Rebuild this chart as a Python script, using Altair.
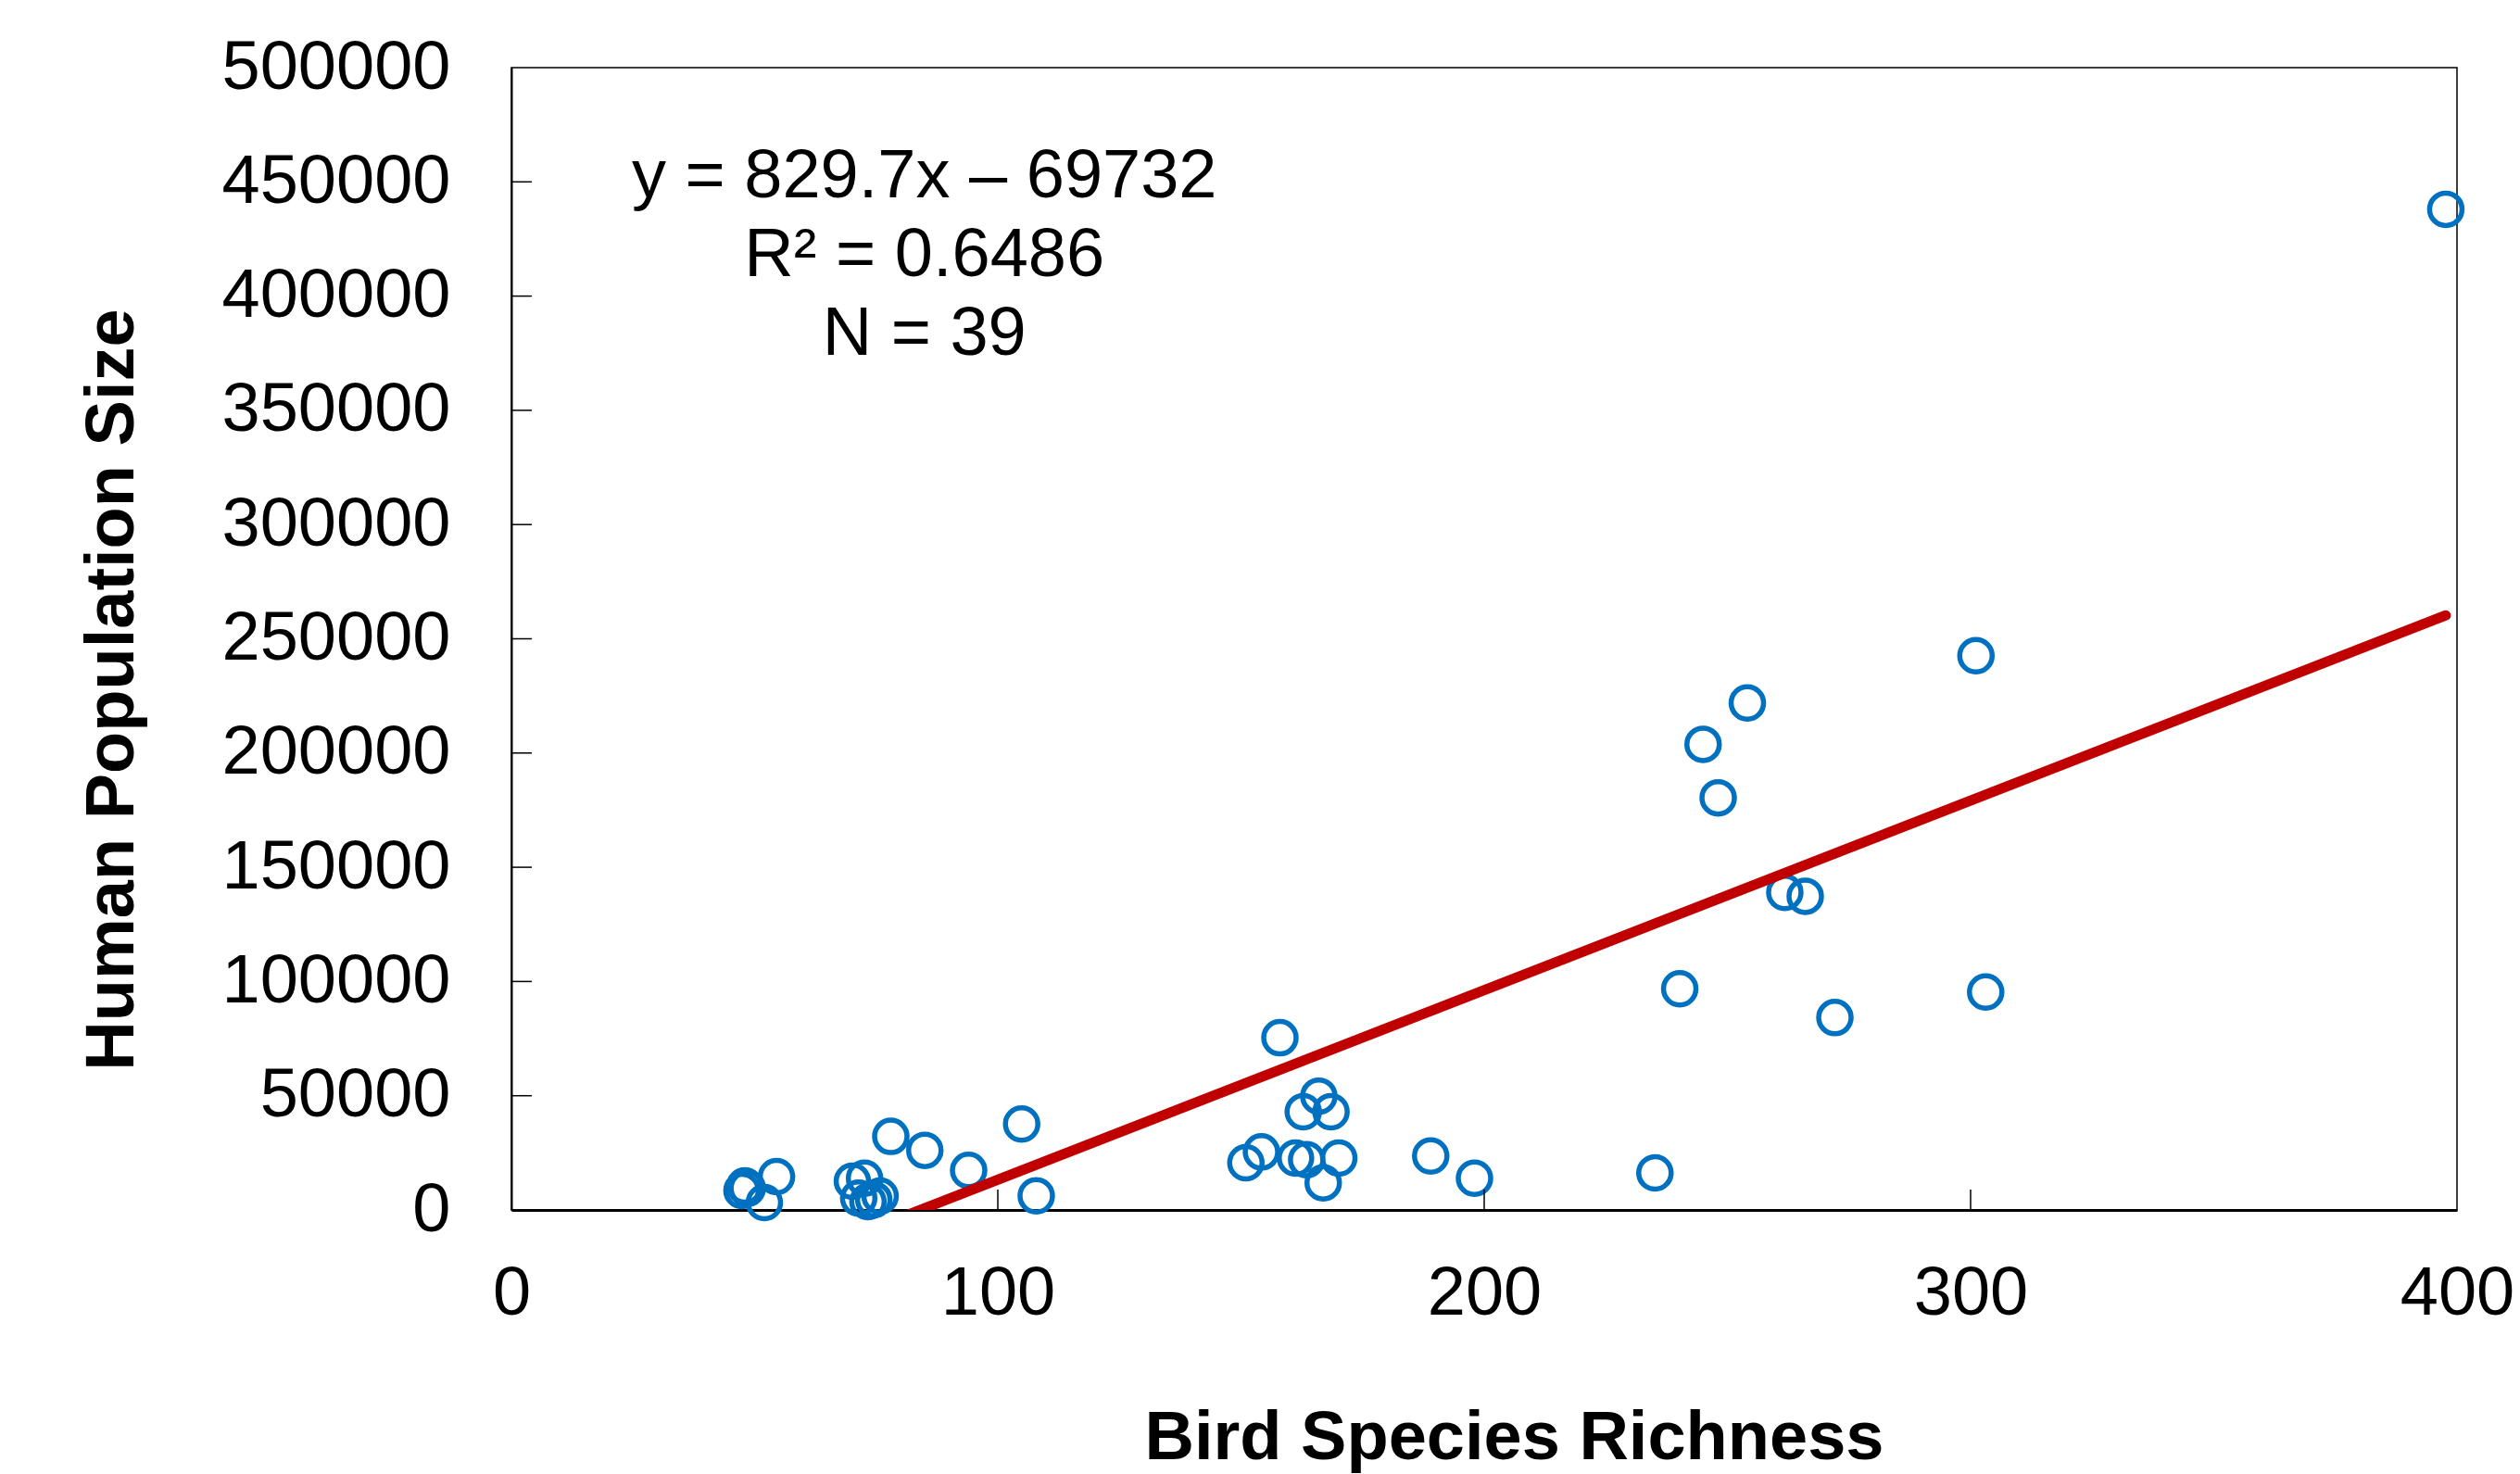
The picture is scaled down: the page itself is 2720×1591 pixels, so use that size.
import altair as alt
import pandas as pd

# ---- data ----
bird_richness = [397.7, 301.1, 254.1, 245.0, 248.1, 261.8, 266.0, 240.2, 303.1, 272.1,
                 235.1, 158.0, 166.0, 162.8, 168.5, 154.2, 151.0, 161.2, 170.1, 166.9,
                 189.0, 198.0, 104.9, 107.9, 94.0, 85.0, 78.0, 47.4, 48.0, 54.5,
                 52.0, 70.1, 72.6, 71.4, 75.8, 73.3, 74.5, 48.5, 163.5]
population = [438000, 242600, 221900, 203800, 180400, 139000, 137300, 96800, 95400, 84200,
              16200, 75400, 49800, 43000, 43000, 25400, 20700, 22700, 22700, 11900,
              23600, 13900, 37600, 6200, 17300, 26100, 32200, 8500, 10500, 14600,
              3250, 12570, 13900, 5150, 6080, 3650, 4500, 9500, 22000]

slope = 829.7
intercept = -69732
annotation_lines = ["y = 829.7x \u2013 69732", "R\u00b2 = 0.6486", "N = 39"]
annotation_pos = [84.9, 452000]

x_ticks = [0, 100, 200, 300, 400]
y_ticks = [0, 50000, 100000, 150000, 200000, 250000, 300000, 350000, 400000, 450000, 500000]
x_inner_ticks = [100, 200, 300]

FONT = "Liberation Sans"
W, H = 2100, 1233
TICK = 22

df = pd.DataFrame({"richness": bird_richness, "population": population})
x_lo, x_hi = min(bird_richness), max(bird_richness)
line_df = pd.DataFrame({"richness": [x_lo, x_hi],
                        "population": [slope * x_lo + intercept, slope * x_hi + intercept]})
text_df = pd.DataFrame({"richness": [annotation_pos[0]], "population": [annotation_pos[1]],
                        "label": ["\n".join(annotation_lines)]})
xt_df = pd.DataFrame({"richness": x_inner_ticks})
yt_df = pd.DataFrame({"population": y_ticks[1:-1]})

xs = alt.Scale(domain=[0, 400], nice=False, zero=False)
ys = alt.Scale(domain=[0, 500000], nice=False, zero=False)

x_axis = alt.Axis(values=x_ticks, format="d", grid=False, ticks=False, labelFlush=False,
                  labelOverlap=False, labelLimit=1000, labelFont=FONT, labelFontSize=74,
                  labelColor="black", labelPadding=54, domainColor="black", domainWidth=3,
                  title="Bird Species Richness", titleFont=FONT, titleFontSize=74,
                  titleFontWeight="bold", titleColor="black", titleX=1082, titleY=268,
                  titleAlign="center", titleBaseline="alphabetic", titleLimit=2000)
y_axis = alt.Axis(values=y_ticks, format="d", grid=False, ticks=False, labelFlush=False,
                  labelOverlap=False, labelLimit=1000, labelFont=FONT, labelFontSize=74,
                  labelColor="black", labelPadding=66, domainColor="black", domainWidth=2,
                  title="Human Population Size", titleFont=FONT, titleFontSize=74,
                  titleFontWeight="bold", titleColor="black", titleAngle=-90,
                  titleX=-431, titleY=671, titleAlign="center", titleBaseline="middle",
                  titleLimit=2000)

points = alt.Chart(df).mark_point(shape="circle", filled=False, size=1225, strokeWidth=5.5,
                                  color="#0070C0", opacity=1).encode(
    x=alt.X("richness:Q", scale=xs, axis=x_axis),
    y=alt.Y("population:Q", scale=ys, axis=y_axis),
)

trend = alt.Chart(line_df).mark_line(color="#C00000", strokeWidth=11, strokeCap="round",
                                     clip=True).encode(
    x=alt.X("richness:Q", scale=xs, axis=x_axis),
    y=alt.Y("population:Q", scale=ys, axis=y_axis),
)

label = alt.Chart(text_df).mark_text(font=FONT, fontSize=74, align="center", baseline="middle",
                                     lineBreak="\n", lineHeight=85, color="black").encode(
    x=alt.X("richness:Q", scale=xs, axis=x_axis),
    y=alt.Y("population:Q", scale=ys, axis=y_axis),
    text="label:N",
)

xticks = alt.Chart(xt_df).mark_rule(color="black", strokeWidth=1.5).encode(
    x=alt.X("richness:Q", scale=xs, axis=x_axis),
    y=alt.value(H), y2=alt.value(H - TICK),
)
yticks = alt.Chart(yt_df).mark_rule(color="black", strokeWidth=1.5).encode(
    y=alt.Y("population:Q", scale=ys, axis=y_axis),
    x=alt.value(0), x2=alt.value(TICK),
)

chart = alt.layer(points, trend, label, xticks, yticks).properties(
    width=W, height=H,
    padding={"left": 552, "top": 73, "right": 68, "bottom": 285},
    autosize=alt.AutoSizeParams(type="none"),
    background="white",
).configure_view(stroke="black", strokeWidth=1.5)

chart.save("out.html", embed_options={"renderer": "svg", "actions": False})
